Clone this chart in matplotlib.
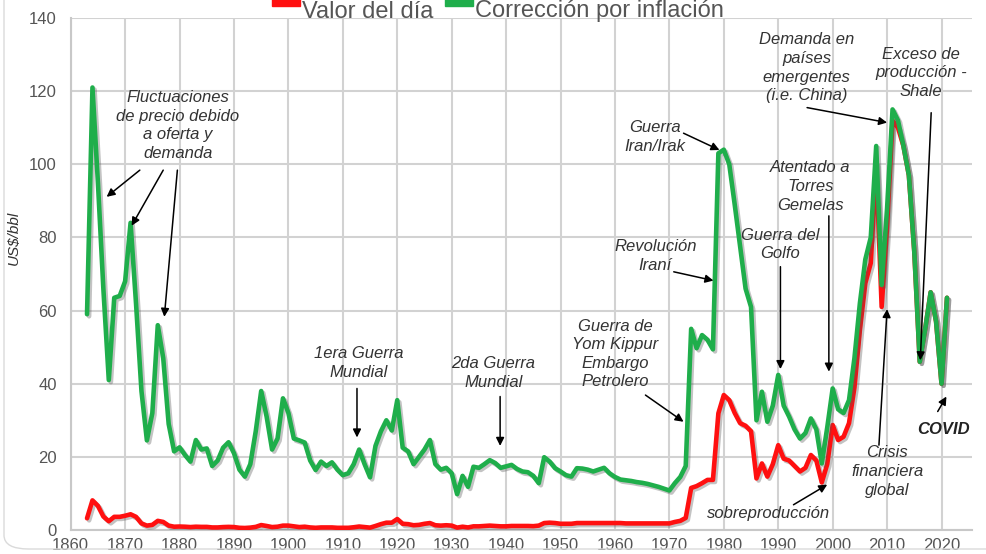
import matplotlib

matplotlib.use("Agg")
import matplotlib.pyplot as plt
import matplotlib.patheffects as pe
from matplotlib.patches import FancyBboxPatch, Rectangle

plt.rcParams["font.family"] = ["Liberation Sans", "DejaVu Sans"]

# years 1863..2021
start_year = 1863
inflation_adj = [
    59, 121, 95, 66, 41, 63.5, 64,                            # 1863-1869
    68, 84, 62, 38, 24.5, 32, 56, 47, 29, 21.5,               # 1870s
    22.6, 20.5, 18.7, 24.6, 22, 22.3, 17.5, 19, 22.5, 24,     # 1880s
    21, 16.5, 14.6, 18, 27, 38, 31, 22, 25, 36,               # 1890s
    32, 25, 24.5, 23.9, 19, 16.4, 18.7, 17.5, 18.5, 16.5,     # 1900s
    15, 15.5, 18, 22, 18, 14.4, 23, 27, 30, 27.2,             # 1910s
    35.5, 22.5, 21.5, 18, 20, 22, 24.6, 18, 16.5, 17,         # 1920s
    15.5, 9.8, 14.8, 11.8, 17.3, 17, 18, 19.1, 18.3, 17,      # 1930s
    17.4, 17.8, 16.7, 16, 15.8, 14.8, 12.8, 19.9, 18.7, 16.9, # 1940s
    16, 15, 14.6, 16.9, 16.8, 16.5, 16, 16.5, 17, 15.5,       # 1950s
    14.5, 13.8, 13.6, 13.4, 13.1, 12.9, 12.6, 12.2, 11.8, 11.3,  # 1960s
    10.8, 12.8, 14.5, 17.5, 55, 49.7, 53.3, 52, 49.4, 103,    # 1970s
    104, 100, 89, 77.5, 66, 61, 30, 37.8, 29.6, 34,           # 1980s
    42.4, 34, 31, 27.5, 25, 26.5, 30.5, 27.5, 18.2, 28,       # 1990s
    38.7, 33, 32, 35.5, 47, 62, 74, 80, 105, 67,              # 2000s
    88, 115, 112, 105, 97, 76, 46, 55, 65, 57,                # 2010s
    40, 63.5,                                                 # 2020-2021
]
nominal = [
    3.2, 8.1, 6.6, 3.7, 2.4, 3.6, 3.6,                        # 1863-1869
    3.9, 4.3, 3.6, 1.8, 1.2, 1.4, 2.5, 2.2, 1.2, 0.9,         # 1870s
    0.95, 0.9, 0.8, 0.9, 0.85, 0.85, 0.7, 0.7, 0.8, 0.85,     # 1880s
    0.8, 0.6, 0.55, 0.65, 0.85, 1.35, 1.1, 0.8, 0.9, 1.2,     # 1890s
    1.2, 1.0, 0.8, 0.9, 0.7, 0.6, 0.7, 0.7, 0.7, 0.6,         # 1900s
    0.6, 0.6, 0.75, 0.95, 0.8, 0.65, 1.1, 1.6, 2.0, 2.0,      # 1910s
    3.0, 1.7, 1.6, 1.3, 1.4, 1.7, 1.9, 1.3, 1.2, 1.3,         # 1920s
    1.2, 0.65, 0.9, 0.7, 1.0, 1.0, 1.1, 1.2, 1.1, 1.0,        # 1930s
    1.0, 1.1, 1.1, 1.1, 1.1, 1.05, 1.2, 1.9, 2.0, 1.9,        # 1940s
    1.7, 1.7, 1.7, 1.9, 1.9, 1.9, 1.9, 1.9, 1.9, 1.9,         # 1950s
    1.9, 1.9, 1.8, 1.8, 1.8, 1.8, 1.8, 1.8, 1.8, 1.8,         # 1960s
    1.8, 2.2, 2.5, 3.3, 11.5, 12, 12.8, 13.7, 13.7, 31.9,     # 1970s
    36.9, 35.5, 32, 29.2, 28.5, 27, 14.1, 18.2, 14.6, 18,     # 1980s
    23.2, 19.5, 19, 17.5, 16, 17, 20.5, 19, 13, 18,           # 1990s
    28.7, 24.6, 25.5, 29.2, 39, 54.7, 67.5, 73, 100, 61,      # 2000s
    83, 112, 110, 105, 97, 76, 46, 55, 65, 57,                # 2010s
    40, 63.5,                                                 # 2020-2021
]
years = list(range(start_year, start_year + len(inflation_adj)))

series_labels = ["Valor del día", "Corrección por inflación"]
x_ticks = list(range(1860, 2030, 10))
y_ticks = list(range(0, 160, 20))

# (text, text_xy, [(tail, head), ...])
notes = [
    ("Fluctuaciones\nde precio debido\na oferta y\ndemanda", (1879.7, 110.6),
     [((1872.7, 98.4), (1866.6, 91.1)), ((1877.0, 98.4), (1871.2, 83.2)),
      ((1879.6, 98.4), (1877.2, 58.3))]),
    ("1era Guerra\nMundial", (1912.9, 45.7), [((1912.6, 38.7), (1912.6, 25.3))]),
    ("2da Guerra\nMundial", (1937.7, 42.9), [((1938.9, 36.5), (1938.9, 23.0))]),
    ("Guerra de\nYom Kippur\nEmbargo\nPetrolero", (1960.1, 48.1),
     [((1965.6, 36.9), (1972.6, 29.6))]),
    ("Revolución\nIraní", (1967.4, 74.9), [((1970.8, 70.6), (1978.1, 68.2))]),
    ("Guerra\nIran/Irak", (1967.4, 107.5), [((1972.6, 108.5), (1979.2, 103.9))]),
    ("Guerra del\nGolfo", (1990.4, 78.1), [((1990.4, 72.0), (1990.4, 44.0))]),
    ("Atentado a\nTorres\nGemelas", (1995.9, 93.9), [((1999.3, 85.9), (1999.3, 43.3))]),
    ("Demanda en\npaíses\nemergentes\n(i.e. China)", (1995.2, 126.4),
     [((1995.3, 115.5), (2010.0, 111.4))]),
    ("Exceso de\nproducción -\nShale", (2016.2, 125.0), [((2018.1, 114.1), (2016.1, 46.4))]),
    ("Crisis\nfinanciera\nglobal", (2010.0, 16.0), [((2008.5, 23.2), (2010.0, 60.4))]),
    ("sobreproducción", (1988.2, 4.6), [((1992.8, 6.9), (1999.0, 12.4))]),
]

red = "#ff1010"
green = "#1fae4b"
shadow = [pe.SimpleLineShadow(offset=(1.5, -1.5), shadow_color="#555555", alpha=0.35), pe.Normal()]
arrow_style = dict(arrowstyle="-|>", color="black", lw=1.1, mutation_scale=12, shrinkA=0, shrinkB=0)

fig = plt.figure(figsize=(9.87, 5.54), dpi=100)
ax = fig.add_axes([70.7 / 987, 24 / 554, (972 - 70.7) / 987, 512 / 554])

ax.plot(years, nominal, color=red, lw=3.3, solid_capstyle="round", solid_joinstyle="round",
        path_effects=shadow, zorder=3)
ax.plot(years, inflation_adj, color=green, lw=3.3, solid_capstyle="round", solid_joinstyle="round",
        path_effects=shadow, zorder=4)

ax.set_xlim(1860, 2025.6)
ax.set_ylim(0, 140)
ax.set_xticks(x_ticks)
ax.set_yticks(y_ticks)
ax.grid(True, color="#d2d2d2", lw=1.5, zorder=0)
ax.set_axisbelow(True)
for side in ["top", "right"]:
    ax.spines[side].set_visible(False)
for side in ["left", "bottom"]:
    ax.spines[side].set_color("#c8c8c8")
    ax.spines[side].set_linewidth(1.5)
ax.tick_params(axis="y", length=0, pad=10, labelsize=12, labelcolor="#555555")
ax.tick_params(axis="x", length=0, pad=6, labelsize=12, labelcolor="#555555")
ax.set_ylabel("US$/bbl", fontsize=11, style="italic", color="#333333")
ax.yaxis.set_label_coords(-0.0555, 0.57)

for text, pos, arrows in notes:
    ax.text(pos[0], pos[1], text, ha="center", va="center", fontsize=12, style="italic",
            color="#333333", linespacing=1.3, zorder=6)
    for tail, head in arrows:
        ax.annotate("", xy=head, xytext=tail, arrowprops=arrow_style, zorder=6)

ax.text(2020.4, 27.6, "COVID", ha="center", va="center", fontsize=12, style="italic",
        weight="bold", color="#222222", zorder=6)
ax.annotate("", xy=(2020.9, 36.5), xytext=(2019.3, 32.4), arrowprops=arrow_style, zorder=6)

# legend at the top edge
for x0, colour, label, tx in [(272, red, series_labels[0], 302.5), (445, green, series_labels[1], 475.5)]:
    fig.patches.append(Rectangle((x0 / 987, 1 - 6 / 554), 28 / 987, 14 / 554,
                                 transform=fig.transFigure, color=colour))
    fig.text(tx / 987, 1 - 17.5 / 554, label, ha="left", va="baseline", fontsize=17, color="#555555")

# outer rounded frame
fig.patches.append(FancyBboxPatch((4 / 987, 5 / 554), 1.2, 1.2, transform=fig.transFigure,
                                  boxstyle="round,pad=0,rounding_size=0.025",
                                  fill=False, edgecolor="#dadada", lw=1))

fig.savefig("out.png", dpi=100)
